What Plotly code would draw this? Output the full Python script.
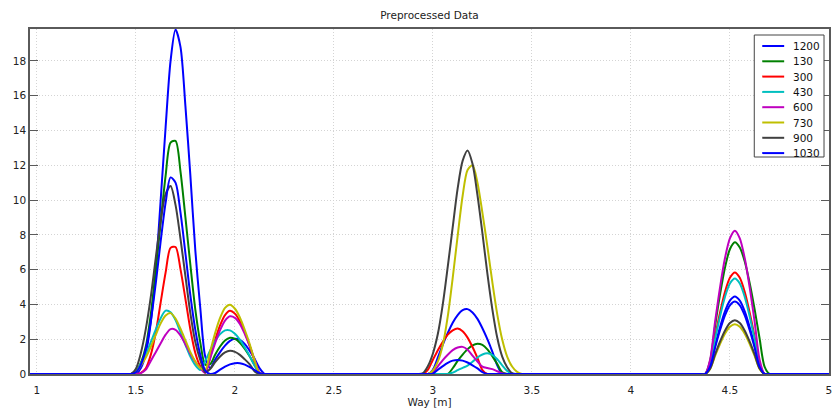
import plotly.graph_objects as go

# Sample positions along the way [m]; the curves are flat zero between the groups
way = (
    [0.95, 1.45]
    + [round(1.475 + 0.025 * i, 3) for i in range(28)]      # 1.475 .. 2.150
    + [2.175, 2.90]
    + [round(2.925 + 0.025 * i, 3) for i in range(22)]      # 2.925 .. 3.450
    + [3.475, 4.325]
    + [round(4.350 + 0.025 * i, 3) for i in range(15)]      # 4.350 .. 4.700
    + [4.725, 5.05]
)

series_names = ["1200", "130", "300", "430", "600", "730", "900", "1030"]
series_colors = ["#0000ff", "#008000", "#ff0000", "#00bfbf",
                 "#bf00bf", "#bfbf00", "#404040", "#0000ff"]

s1200 = ([0, 0]
         + [0, 0, 0.34, 1.19, 2.97, 5.94, 10.0, 14.2, 18.0, 19.8, 18.8, 15.4, 11.4, 7.1,
            3.8, 1.0, 0.35, 0.83, 1.26, 1.63, 1.90, 2.02, 1.96, 1.72, 1.33, 0.86, 0.32, 0]
         + [0, 0]
         + [0, 0, 0, 0.24, 0.95, 1.69, 2.36, 2.95, 3.39, 3.67, 3.73, 3.54, 3.17, 2.63,
            2.00, 1.29, 0.50, 0, 0, 0, 0, 0]
         + [0, 0]
         + [0, 0, 0.45, 1.62, 2.69, 3.60, 4.22, 4.46, 4.22, 3.60, 2.69, 1.62, 0.45, 0, 0]
         + [0, 0])

s130 = ([0, 0]
        + [0, 0.15, 0.65, 1.59, 3.43, 5.93, 8.72, 11.4, 13.3, 13.4, 11.65, 9.0, 6.27, 3.70,
           1.82, 0.54, 0.56, 1.11, 1.58, 1.92, 2.08, 2.02, 1.80, 1.44, 1.00, 0.50, 0.04, 0]
        + [0, 0]
        + [0, 0, 0, 0, 0, 0, 0, 0.33, 0.75, 1.11, 1.43, 1.65, 1.74, 1.67,
           1.42, 1.03, 0.57, 0.10, 0, 0, 0, 0]
        + [0, 0]
        + [0, 0, 0.76, 2.75, 4.56, 6.11, 7.17, 7.57, 7.27, 6.47, 5.22, 3.71, 2.04, 0.42, 0]
        + [0, 0])

s300 = ([0, 0]
        + [0, 0, 0.07, 0.33, 1.10, 2.37, 4.12, 5.84, 7.25, 7.3, 6.03, 4.32, 2.56, 1.21,
           0.44, 0.07, 0.97, 1.96, 2.80, 3.39, 3.63, 3.47, 3.03, 2.39, 1.60, 0.72, 0.03, 0]
        + [0, 0]
        + [0, 0, 0.25, 0.82, 1.37, 1.85, 2.26, 2.51, 2.61, 2.46, 2.09, 1.55, 0.92, 0.23,
           0, 0, 0, 0, 0, 0, 0, 0]
        + [0, 0]
        + [0, 0, 0.58, 2.12, 3.52, 4.71, 5.53, 5.84, 5.53, 4.71, 3.52, 2.12, 0.58, 0, 0]
        + [0, 0])

s430 = ([0, 0]
        + [0, 0.1, 0.60, 1.13, 1.83, 2.55, 3.21, 3.64, 3.55, 3.10, 2.39, 1.68, 1.00, 0.51,
           0.23, 0.74, 1.35, 1.88, 2.29, 2.51, 2.51, 2.31, 1.98, 1.52, 1.02, 0.46, 0.03, 0]
        + [0, 0]
        + [0, 0, 0, 0, 0, 0, 0, 0.08, 0.22, 0.35, 0.48, 0.70, 0.95, 1.12,
           1.19, 1.10, 0.85, 0.50, 0.18, 0.02, 0, 0]
        + [0, 0]
        + [0, 0, 0.55, 1.99, 3.31, 4.43, 5.20, 5.49, 5.20, 4.43, 3.31, 1.99, 0.55, 0, 0]
        + [0, 0])

s600 = ([0, 0]
        + [0, 0, 0.05, 0.25, 0.75, 1.25, 1.77, 2.26, 2.58, 2.54, 2.22, 1.71, 1.17, 0.70,
           0.35, 0.07, 0.90, 1.77, 2.52, 3.07, 3.32, 3.23, 2.88, 2.30, 1.60, 0.80, 0.07, 0]
        + [0, 0]
        + [0, 0, 0, 0.09, 0.44, 0.80, 1.11, 1.37, 1.52, 1.56, 1.40, 1.05, 0.72, 0.42,
           0.34, 0.28, 0.16, 0.04, 0, 0, 0, 0]
        + [0, 0]
        + [0, 0, 0.82, 2.99, 4.97, 6.65, 7.80, 8.24, 7.80, 6.65, 4.97, 2.99, 0.82, 0, 0]
        + [0, 0])

s730 = ([0, 0]
        + [0, 0.1, 0.49, 0.95, 1.56, 2.25, 2.91, 3.36, 3.50, 3.19, 2.60, 1.93, 1.26, 0.72,
           0.34, 0.22, 1.29, 2.35, 3.22, 3.80, 3.98, 3.75, 3.25, 2.53, 1.71, 0.76, 0.04, 0]
        + [0, 0]
        + [0, 0, 0, 0.2, 0.72, 1.68, 3.31, 5.53, 7.94, 10.23, 11.73, 12.0, 11.0, 9.26,
           7.34, 5.29, 3.43, 1.98, 1.00, 0.43, 0.12, 0]
        + [0, 0]
        + [0, 0, 0.29, 1.04, 1.72, 2.31, 2.71, 2.86, 2.71, 2.31, 1.72, 1.04, 0.29, 0, 0]
        + [0, 0])

s900 = ([0, 0]
        + [0, 0.3, 1.21, 2.59, 4.43, 6.66, 8.80, 10.35, 10.8, 9.72, 7.78, 5.62, 3.49, 1.84,
           0.81, 0.1, 0.29, 0.68, 1.01, 1.24, 1.33, 1.27, 1.10, 0.84, 0.55, 0.15, 0, 0]
        + [0, 0]
        + [0, 0.05, 0.46, 1.18, 2.31, 4.02, 6.17, 8.44, 10.67, 12.25, 12.85, 12.08, 10.28, 8.10,
           5.78, 3.73, 2.08, 1.00, 0.39, 0.05, 0, 0]
        + [0, 0]
        + [0, 0, 0.31, 1.12, 1.86, 2.49, 2.93, 3.09, 2.93, 2.49, 1.86, 1.12, 0.31, 0, 0]
        + [0, 0])

s1030 = ([0, 0]
         + [0, 0.1, 0.54, 1.44, 3.03, 5.20, 7.63, 9.85, 11.3, 11.0, 9.29, 6.94, 4.52, 2.54,
            1.10, 0.2, 0, 0.06, 0.25, 0.42, 0.55, 0.62, 0.62, 0.54, 0.40, 0.23, 0.05, 0]
         + [0, 0]
         + [0, 0, 0, 0.02, 0.24, 0.45, 0.64, 0.77, 0.81, 0.77, 0.66, 0.50, 0.32, 0.11,
            0, 0, 0, 0, 0, 0, 0, 0]
         + [0, 0]
         + [0, 0, 0.42, 1.51, 2.51, 3.37, 3.95, 4.17, 3.95, 3.37, 2.51, 1.51, 0.42, 0, 0]
         + [0, 0])

series_values = [s1200, s130, s300, s430, s600, s730, s900, s1030]

x_ticks = [1, 1.5, 2, 2.5, 3, 3.5, 4, 4.5, 5]
y_ticks = [0, 2, 4, 6, 8, 10, 12, 14, 16, 18]

FONT = "DejaVu Sans"
W, H = 832, 416
M_L, M_R, M_T, M_B = 30, 0, 29, 42
X_RANGE = [0.965, 5.0005]
AX_COLOR = "#5a5a5a"

fig = go.Figure()
for name, color, vals in zip(series_names, series_colors, series_values):
    fig.add_trace(go.Scatter(
        x=way, y=vals, name=name, mode="lines",
        line=dict(color=color, width=2, shape="spline", smoothing=0.8),
        showlegend=False,
    ))

grid = dict(showgrid=True, gridcolor="#d4d4d4", griddash="1px,2px", gridwidth=1,
            zeroline=False)
tick_font = dict(family=FONT, size=10.5, color="#222222")

# Main x axis carries labels and grid; invisible outside ticks push labels down a little
fig.update_xaxes(range=X_RANGE, tickvals=x_ticks,
                 ticktext=[f"{v:g}" for v in x_ticks],
                 ticks="outside", ticklen=6, tickcolor="rgba(0,0,0,0)",
                 ticklabeloverflow="allow",
                 showline=True, linecolor=AX_COLOR, linewidth=1.5, mirror=True,
                 tickfont=tick_font,
                 title=dict(text="Way [m]", font=tick_font, standoff=2),
                 **grid)
fig.update_yaxes(range=[0, 19.83], tickvals=y_ticks,
                 ticktext=[str(v) for v in y_ticks],
                 ticks="inside", ticklen=8, tickwidth=1, tickcolor=AX_COLOR,
                 showline=True, linecolor=AX_COLOR, linewidth=1.5, mirror="allticks",
                 tickfont=tick_font, **grid)

# Overlay axis that draws the inward tick marks on the bottom and top edges
fig.update_layout(xaxis2=dict(
    overlaying="x", anchor="y", side="bottom", range=X_RANGE, tickvals=x_ticks,
    showticklabels=False, ticks="inside", ticklen=8, tickwidth=1, tickcolor=AX_COLOR,
    showline=True, linecolor=AX_COLOR, linewidth=1.5, mirror="allticks",
    showgrid=False, zeroline=False,
))

# Legend box drawn in the upper right corner of the plot area
pw, ph = W - M_L - M_R, H - M_T - M_B
def px_x(p):
    return (p - M_L) / pw
def px_y(p):
    return (H - M_B - p) / ph

box_l, box_r, box_t, box_b = 757, 827, 35, 157
shapes = [dict(type="rect", xref="paper", yref="paper",
               x0=px_x(box_l), x1=px_x(box_r), y0=px_y(box_b), y1=px_y(box_t),
               line=dict(color="#444444", width=1), fillcolor="white", layer="above")]
annotations = []
row0, row_step = 46, 15.3
for i, (name, color) in enumerate(zip(series_names, series_colors)):
    yy = px_y(row0 + i * row_step)
    shapes.append(dict(type="line", xref="paper", yref="paper",
                       x0=px_x(765), x1=px_x(787), y0=yy, y1=yy,
                       line=dict(color=color, width=2), layer="above"))
    annotations.append(dict(text=name, xref="paper", yref="paper", x=px_x(794), y=yy,
                            xanchor="left", yanchor="middle", showarrow=False,
                            font=dict(family=FONT, size=10.5, color="#111111")))

fig.update_layout(
    width=W, height=H,
    margin=dict(l=M_L, r=M_R, t=M_T, b=M_B),
    paper_bgcolor="white", plot_bgcolor="white",
    title=dict(text="Preprocessed Data", x=0.5, xref="paper", xanchor="center",
               y=1 - 15 / H, yref="container", yanchor="middle",
               font=dict(family=FONT, size=10.5, color="#222222")),
    shapes=shapes, annotations=annotations,
    showlegend=False,
)

fig.write_html("out.html")
